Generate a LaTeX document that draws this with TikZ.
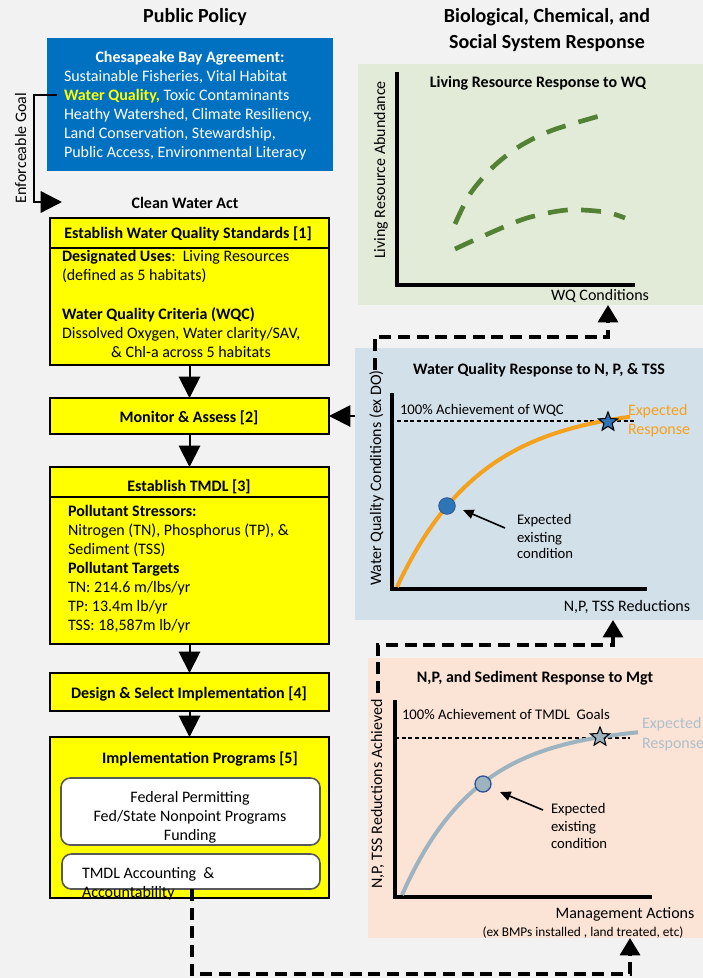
\documentclass[tikz,border=0pt]{standalone}
\usepackage{fontspec}
\setmainfont{Carlito}
\usetikzlibrary{arrows.meta,shapes.geometric,fit}
\definecolor{bgc}{HTML}{F2F2F2}
\definecolor{cbblue}{HTML}{0070C0}
\definecolor{ylw}{HTML}{FFFF00}
\definecolor{gpanel}{HTML}{E2EBD8}
\definecolor{bpanel}{HTML}{D2E0EA}
\definecolor{ppanel}{HTML}{FBE3D6}
\definecolor{gdash}{HTML}{548235}
\definecolor{orng}{HTML}{F4A11E}
\definecolor{dotblue}{HTML}{2E75B6}
\definecolor{dotedge}{HTML}{2F5597}
\definecolor{grayblue}{HTML}{9DB4C0}
\definecolor{graytxt}{HTML}{ADC0CB}
\definecolor{rboxedge}{HTML}{595959}
\newcommand\bodyf{\fontsize{12}{14}\selectfont}
\newcommand\smallf{\fontsize{11}{13}\selectfont}
\newcommand\tinyf{\fontsize{10}{12}\selectfont}
\newcommand\titlef{\fontsize{15}{18}\selectfont\bfseries}
\tikzset{
  ybox/.style={inner sep=0, outer sep=0, draw=black, line width=1.8pt, fill=ylw},
  rbox/.style={inner sep=0, outer sep=0, draw=rboxedge, line width=1.2pt, fill=white, rounded corners=7pt},
  panel/.style={inner sep=0, outer sep=0},
  txt/.style={inner sep=0, outer sep=0, font=\bodyf, yshift=-1.8pt},
  stxt/.style={inner sep=0, outer sep=0, font=\smallf, yshift=-1.6pt},
  vtxt/.style={inner sep=0, outer sep=0, font=\bodyf, rotate=90, anchor=mid},
  bigarrow/.style={line width=1.5pt, -{Triangle[length=16pt,width=16pt]}},
  dashconn/.style={line width=2.6pt, dash pattern=on 9pt off 5pt, -{Triangle[length=13pt,width=15pt]}},
  axisline/.style={line width=3pt},
  refline/.style={line width=0.8pt, dash pattern=on 3pt off 2pt},
  smallarrow/.style={line width=1.2pt, -{Triangle[length=8pt,width=7pt]}},
  starmark/.style={star, star points=5, star point ratio=2.3, minimum size=15pt, inner sep=0, draw=black, line width=0.8pt},
}
\begin{document}
\begin{tikzpicture}[x=0.75pt,y=-0.75pt]
\useasboundingbox (0,0) rectangle (703,978);
\fill[bgc] (0,0) rectangle (703,978);

% titles
\node[txt, font=\titlef, anchor=mid] (tpp) at (195,17) {Public Policy};
\node[txt, font=\titlef, anchor=mid] (tbio1) at (547,17) {Biological, Chemical, and};
\node[txt, font=\titlef, anchor=mid] (tbio2) at (547,43) {Social System Response};

% Chesapeake Bay Agreement box
\node[panel, fill=cbblue, fit={(47,38) (333,171)}] (cba) {};
\node[txt, text=white, font=\bodyf\bfseries, anchor=mid] (cba0) at (190,57) {Chesapeake Bay Agreement:};
\node[txt, text=white, anchor=mid west] (cba1) at (64,76) {Sustainable Fisheries, Vital Habitat};
\node[txt, text=white, anchor=mid west] (cba2) at (64,95) {{\color{ylw}\bfseries Water Quality,} Toxic Contaminants};
\node[txt, text=white, anchor=mid west] (cba3) at (64,114) {Heathy Watershed, Climate Resiliency,};
\node[txt, text=white, anchor=mid west] (cba4) at (64,133) {Land Conservation, Stewardship,};
\node[txt, text=white, anchor=mid west] (cba5) at (64,152) {Public Access, Environmental Literacy};

% enforceable goal
\coordinate (eg0) at (57,95);
\coordinate (eg1) at (34,95);
\coordinate (eg2) at (34,202);
\coordinate (eg3) at (62,202);
\draw[line width=1.8pt, -{Triangle[length=16pt,width=16pt]}] (eg0) -- (eg1) -- (eg2) -- (eg3);
\node[vtxt] (egl) at (23,148) {Enforceable Goal};

\node[txt, font=\bodyf\bfseries, anchor=mid] (cwa) at (185,203) {Clean Water Act};

% box 1
\node[ybox, fit={(50,218) (329,365)}] (b1) {};
\draw[line width=1.8pt] (50,248) -- (329,248);
\node[txt, font=\bodyf\bfseries, anchor=mid] (b1h) at (188,233) {Establish Water Quality Standards [1]};
\node[txt, anchor=mid west] (b1a) at (62,256) {\textbf{Designated Uses}:\ \ Living Resources};
\node[txt, anchor=mid west] (b1b) at (62,275) {(defined as 5 habitats)};
\node[txt, anchor=mid west] (b1c) at (62,314) {\textbf{Water Quality Criteria (WQC)}};
\node[txt, anchor=mid west] (b1d) at (62,333) {Dissolved Oxygen, Water clarity/SAV,};
\node[txt, anchor=mid west] (b1e) at (111,352) {\& Chl-a across 5 habitats};

% box 2
\node[ybox, fit={(50,398) (329,434)}] (b2) {};
\node[txt, font=\bodyf\bfseries, anchor=mid] (b2h) at (189,417) {Monitor \& Assess [2]};

% box 3
\node[ybox, fit={(50,467) (329,644)}] (b3) {};
\draw[line width=1.8pt] (50,497) -- (329,497);
\node[txt, font=\bodyf\bfseries, anchor=mid] (b3h) at (189,486) {Establish TMDL [3]};
\node[txt, font=\bodyf\bfseries, anchor=mid west] (b3a) at (68,511) {Pollutant Stressors:};
\node[txt, anchor=mid west] (b3b) at (68,530) {Nitrogen (TN), Phosphorus (TP), \&};
\node[txt, anchor=mid west] (b3c) at (68,549) {Sediment (TSS)};
\node[txt, font=\bodyf\bfseries, anchor=mid west] (b3d) at (68,568) {Pollutant Targets};
\node[txt, anchor=mid west] (b3e) at (68,587) {TN: 214.6 m/lbs/yr};
\node[txt, anchor=mid west] (b3f) at (68,606) {TP: 13.4m lb/yr};
\node[txt, anchor=mid west] (b3g) at (68,625) {TSS: 18,587m lb/yr};

% box 4
\node[ybox, fit={(50,673) (329,711)}] (b4) {};
\node[txt, font=\bodyf\bfseries, anchor=mid] (b4h) at (189,693) {Design \& Select Implementation [4]};

% box 5
\node[ybox, fit={(50,737) (329,898)}] (b5) {};
\node[txt, font=\bodyf\bfseries, anchor=mid] (b5h) at (200,758) {Implementation Programs [5]};
\node[rbox, fit={(61,778) (320,845)}] (r1) {};
\node[txt, anchor=mid] (r1a) at (190,797) {Federal Permitting};
\node[txt, anchor=mid] (r1b) at (190,816) {Fed/State Nonpoint Programs};
\node[txt, anchor=mid] (r1c) at (190,835) {Funding};
\node[rbox, fit={(62,854) (320,889)}] (r2) {};
\node[txt, anchor=mid west] (r2a) at (82,873) {TMDL Accounting\ \ \&};
\node[txt, anchor=mid west] (r2b) at (82,892) {Accountability};

% arrows between boxes
\draw[bigarrow] (b1.south) -- (b2.north);
\draw[bigarrow] (b2.south) -- (b3.north);
\draw[bigarrow] (b3.south) -- (b4.north);
\draw[bigarrow] (b4.south) -- (b5.north);

% ---------- right panels ----------
\node[panel, fill=gpanel, fit={(358,64) (703,305)}] (gp) {};
\node[panel, fill=bpanel, fit={(355,348) (703,620)}] (bp) {};
\node[panel, fill=ppanel, fit={(368,658) (703,938)}] (pp) {};

% green chart
\draw[axisline] (397,72) -- (397,285) -- (635,285);
\node[txt, font=\bodyf\bfseries, anchor=mid] (gpt) at (538,82) {Living Resource Response to WQ};
\node[vtxt] (gpy) at (382,170) {Living Resource Abundance};
\node[txt, anchor=mid] (gpx) at (600,295) {WQ Conditions};
\draw[gdash, line width=3.5pt, dash pattern=on 15pt off 10pt] plot[smooth] coordinates {(455,224) (470,194) (493,167) (520,146) (553,130) (603,115)};
\draw[gdash, line width=3.5pt, dash pattern=on 15pt off 10pt] plot[smooth] coordinates {(455,249) (490,233) (527,218) (567,210) (605,212) (625,218)};

% blue chart
\draw[axisline] (392,393) -- (392,589) -- (647,589);
\node[txt, font=\bodyf\bfseries, anchor=mid] (bpt) at (539,369) {Water Quality Response to N, P, \& TSS};
\node[vtxt] (bpy) at (378,478) {Water Quality Conditions (ex DO)};
\node[stxt, anchor=mid west] (bpr) at (400,409) {100\% Achievement of WQC};
\draw[refline] (397,421) -- (636,421);
\draw[orng, line width=3pt] plot[domain=397:630, samples=80] (\x, {587-182*(1-exp(-(\x-397)/85))});
\node[circle, fill=dotblue, draw=dotedge, line width=0.6pt, minimum size=12.5pt, inner sep=0] (bdot) at (447,506) {};
\node[starmark, fill=dotblue] (bstar) at (608,422) {};
\node[txt, text=orng, anchor=mid west] (bpe1) at (628,410) {Expected};
\node[txt, text=orng, anchor=mid west] (bpe2) at (628,429) {Response};
\node[stxt, anchor=mid west] (bpc1) at (517,519) {Expected};
\node[stxt, anchor=mid west] (bpc2) at (517,537) {existing};
\node[stxt, anchor=mid west] (bpc3) at (517,553) {condition};
\coordinate (ba0) at (505,528);
\coordinate (ba1) at (463,510);
\draw[smallarrow] (ba0) -- (ba1);
\node[txt, anchor=mid] (bpx) at (627,606) {N,P, TSS Reductions};

% peach chart
\draw[axisline] (395,700) -- (395,897) -- (652,897);
\node[txt, font=\bodyf\bfseries, anchor=mid] (ppt) at (535,677) {N,P, and Sediment Response to Mgt};
\node[vtxt] (ppy) at (379,794) {N,P, TSS Reductions Achieved};
\node[stxt, anchor=mid west] (ppr) at (402,714) {100\% Achievement of TMDL\ \ Goals};
\draw[refline] (395,738) -- (630,738);
\draw[grayblue, line width=3pt] plot[domain=402:638, samples=80] (\x, {895-170*(1-exp(-(\x-402)/75))});
\node[circle, fill=grayblue, draw=dotedge, line width=1pt, minimum size=12pt, inner sep=0] (pdot) at (483,784) {};
\node[starmark, fill=grayblue] (pstar) at (600,737) {};
\node[txt, text=graytxt, anchor=mid west] (ppe1) at (642,723) {Expected};
\node[txt, text=graytxt, anchor=mid west] (ppe2) at (642,743) {Response};
\node[stxt, anchor=mid west] (ppc1) at (551,808) {Expected};
\node[stxt, anchor=mid west] (ppc2) at (551,826) {existing};
\node[stxt, anchor=mid west] (ppc3) at (551,843) {condition};
\coordinate (pa0) at (543,810);
\coordinate (pa1) at (500,792);
\draw[smallarrow] (pa0) -- (pa1);
\node[txt, anchor=mid] (ppx) at (625,913) {Management Actions};
\node[txt, font=\tinyf, anchor=mid] (ppx2) at (583,931) {(ex BMPs installed , land treated, etc)};

% monitor arrow
\draw[bigarrow] (bp.west |- b2.east) -- (b2.east);

% dashed connectors
\coordinate (c1a) at (192,889);
\coordinate (c1b) at (192,974);
\coordinate (c1c) at (630,974);
\draw[dashconn] (c1a) -- (c1b) -- (c1c) -- (c1c |- pp.south);
\coordinate (c2a) at (378,693);
\coordinate (c2b) at (378,645);
\coordinate (c2c) at (613,645);
\draw[dashconn] (c2a) -- (c2b) -- (c2c) -- (c2c |- bp.south);
\coordinate (c3a) at (375,370);
\coordinate (c3b) at (375,337);
\coordinate (c3c) at (608,337);
\draw[dashconn] (c3a) -- (c3b) -- (c3c) -- (c3c |- gp.south);
\end{tikzpicture}
\end{document}
